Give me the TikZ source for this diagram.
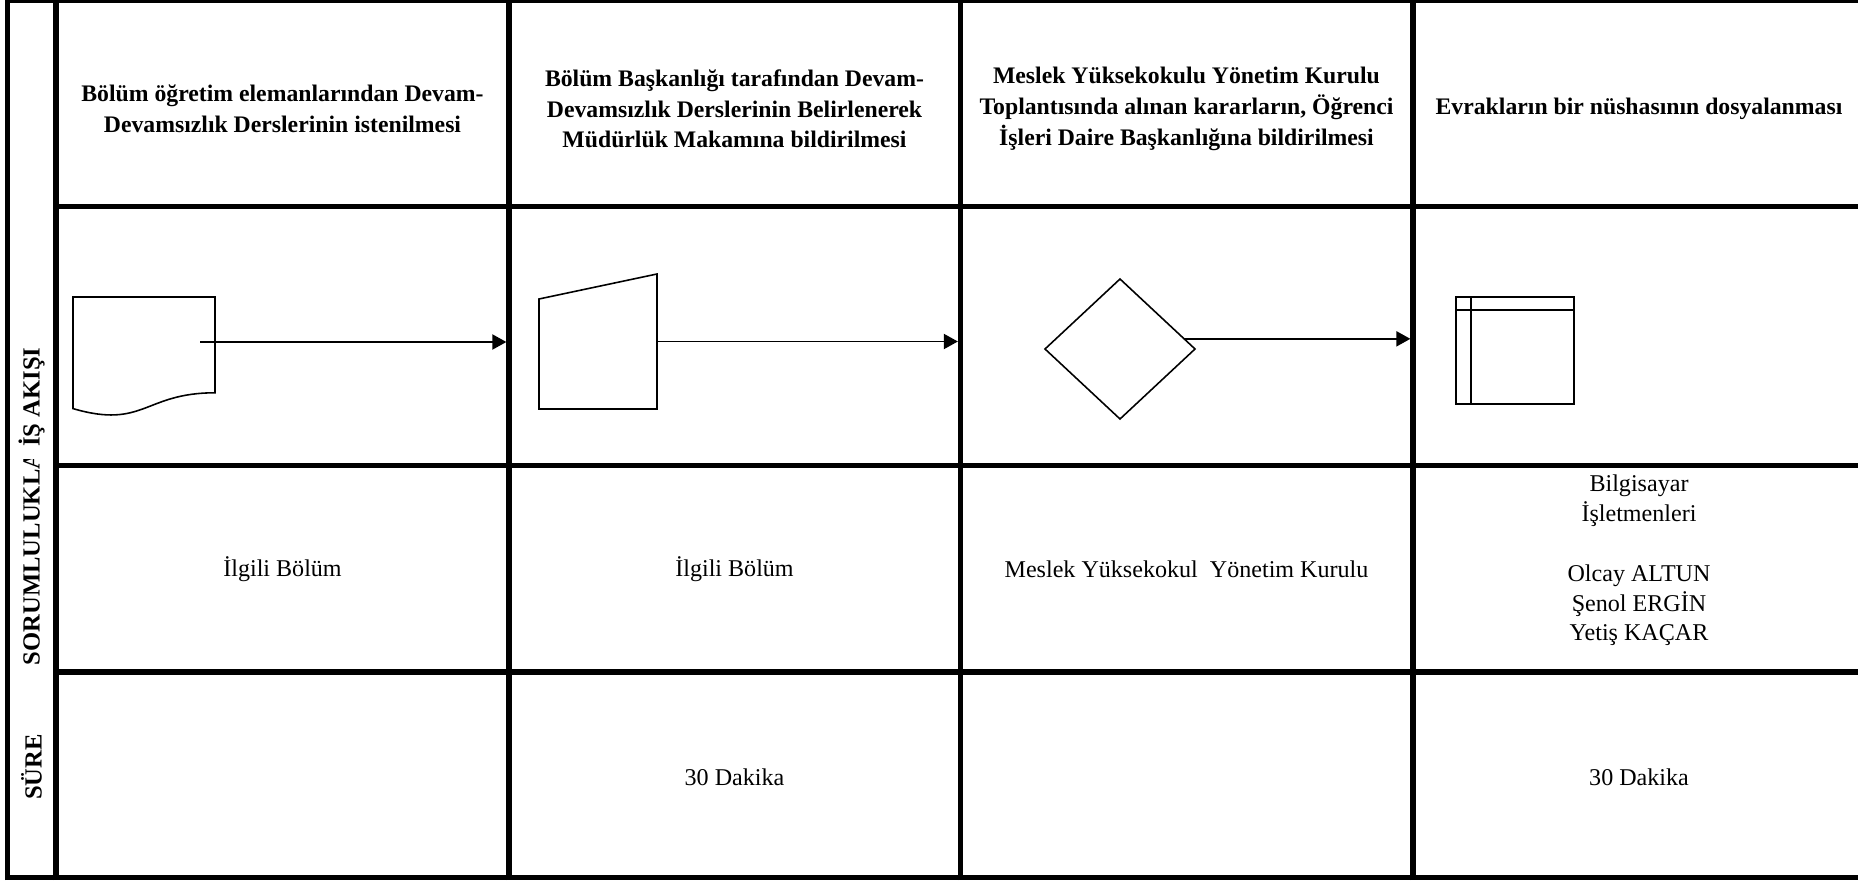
\documentclass[tikz,border=0pt]{standalone}
\usepackage{fontspec}
\setmainfont{Liberation Serif}
\usepackage{tikz}
\usetikzlibrary{positioning}
\usetikzlibrary{shapes.geometric}
\usetikzlibrary{arrows.meta}

\begin{document}
\begin{tikzpicture}[
x=1cm,
y=1cm,
every node/.style={font=\fontsize{13.7}{17}\selectfont,text=black,outer sep=0pt},
tableline/.style={draw=black,line width=3pt},
headtext/.style={font=\fontsize{13.5}{17.5}\selectfont\bfseries,align=center,inner sep=0pt},
celltext/.style={align=center,inner sep=0pt},
lanelabel/.style={font=\fontsize{14}{17}\selectfont\bfseries,rotate=90,inner sep=0pt},
shapebox/.style={draw=none,inner sep=0pt,outer sep=0pt},
shapeline/.style={draw=black,line width=0.9pt,line join=miter},
flow/.style={-{Triangle[length=0.28cm,width=0.30cm]},line width=1.1pt,draw=black,shorten >=1.5pt}
]

\path[use as bounding box] (0,0) rectangle (37.16,17.60);

\coordinate (sutA) at (10.18,0);
\coordinate (sutB) at (19.21,0);
\coordinate (sutC) at (28.26,0);

\draw[tableline] (0.15,0) -- (0.15,17.60);
\draw[tableline] (1.12,0) -- (1.12,17.60);
\draw[tableline] (0.10,17.60) -- (37.16,17.60);
\draw[tableline] (0.10,0.05) -- (37.16,0.05);
\draw[tableline] (1.12,13.47) -- (37.16,13.47);
\draw[tableline] (1.12,8.29) -- (37.16,8.29);
\draw[tableline] (1.12,4.16) -- (37.16,4.16);
\draw[tableline] (10.18,0) -- (10.18,17.60);
\draw[tableline] (19.21,0) -- (19.21,17.60);
\draw[tableline] (28.26,0) -- (28.26,17.60);

\node[lanelabel] (isakisi) at (0.63,9.66) {İŞ AKIŞI};
\begin{scope}
\clip (0.20,0.10) rectangle (1.05,8.42);
\node[lanelabel,anchor=west] (sorumluluk) at (0.63,4.30) {SORUMLULUKLA};
\end{scope}
\node[lanelabel] (sure) at (0.63,2.26) {SÜRE};

\node[headtext] (baslik1) at (5.65,15.42) {Bölüm öğretim elemanlarından Devam-\\Devamsızlık Derslerinin istenilmesi};
\node[headtext] (baslik2) at (14.69,15.42) {Bölüm Başkanlığı tarafından Devam-\\Devamsızlık Derslerinin Belirlenerek\\Müdürlük Makamına bildirilmesi};
\node[headtext] (baslik3) at (23.73,15.42) {Meslek Yüksekokulu Yönetim Kurulu\\Toplantısında alınan kararların, Öğrenci\\İşleri Daire Başkanlığına bildirilmesi};
\node[headtext] (baslik4) at (32.78,15.42) {Evrakların bir nüshasının dosyalanması};

\node[shapebox,minimum width=2.84cm,minimum height=2.39cm] (belge) at (2.88,10.465) {};
\node[shapebox,minimum width=2.36cm,minimum height=2.70cm] (elle) at (11.96,10.77) {};
\node[diamond,draw=black,line width=0.9pt,minimum width=3.00cm,minimum height=2.80cm,inner sep=0pt] (karar) at (22.40,10.62) {};
\node[draw=black,line width=0.9pt,minimum width=2.36cm,minimum height=2.14cm,inner sep=0pt] (arsiv) at (30.30,10.59) {};

\draw[shapeline] (belge.north west) -- (belge.north east) -- ([yshift=0.474cm]belge.south east) .. controls ([yshift=0.474cm]belge.south) and ([yshift=-0.257cm]belge.south) .. ([yshift=0.158cm]belge.south west) -- cycle;
\draw[shapeline] (elle.south west) -- ([yshift=-0.50cm]elle.north west) -- (elle.north east) -- (elle.south east) -- cycle;
\draw[shapeline] ([xshift=0.30cm]arsiv.north west) -- ([xshift=0.30cm]arsiv.south west);
\draw[shapeline] ([yshift=-0.26cm]arsiv.north west) -- ([yshift=-0.26cm]arsiv.north east);

\coordinate (ok1) at ([xshift=-0.30cm,yshift=0.295cm]belge.east);
\draw[flow] (ok1) -- (ok1 -| sutA);
\draw[flow] (elle.east) -- (elle.east -| sutB);
\draw[flow] (karar.9) -- (karar.9 -| sutC);

\node[celltext] (sorumlu1) at (5.65,6.22) {İlgili Bölüm};
\node[celltext] (sorumlu2) at (14.69,6.22) {İlgili Bölüm};
\node[celltext] (sorumlu3) at (23.73,6.22) {Meslek Yüksekokul\ \ Yönetim Kurulu};
\node[celltext] (sorumlu4) at (32.78,6.39) {Bilgisayar\\İşletmenleri\\[17pt]Olcay ALTUN\\Şenol ERGİN\\Yetiş KAÇAR};

\node[celltext] (sure2) at (14.69,2.06) {30 Dakika};
\node[celltext] (sure4) at (32.78,2.06) {30 Dakika};

\end{tikzpicture}
\end{document}
